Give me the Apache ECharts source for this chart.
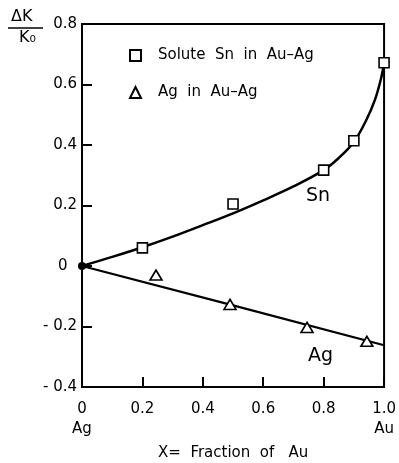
<!DOCTYPE html>
<html><head><meta charset="utf-8">
<script src="https://cdn.jsdelivr.net/npm/echarts@6/dist/echarts.min.js"></script>
<style>html,body{margin:0;padding:0;background:#fff}#c{width:399px;height:463px}</style>
</head><body><div id="c"></div>
<script>
// Measured points
const snX = [0.2, 0.5, 0.8, 0.9, 1.0];
const snY = [0.06, 0.205, 0.317, 0.414, 0.672];
const agX = [0.245, 0.49, 0.745, 0.943];
const agY = [-0.03, -0.127, -0.203, -0.249];
// Fitted curves as drawn
const snCurveX = [0, 0.1, 0.2, 0.3, 0.4, 0.5, 0.6, 0.7, 0.8, 0.85, 0.9, 0.94, 0.97, 0.99, 1.0];
const snCurveY = [0, 0.03, 0.062, 0.097, 0.135, 0.174, 0.217, 0.263, 0.317, 0.357, 0.41, 0.48, 0.55, 0.62, 0.67];
const agCurveX = [0, 0.5, 1.0];
const agCurveY = [0, -0.13, -0.262];
const xTickLabels = ['0\nAg', '0.2', '0.4', '0.6', '0.8', '1.0\nAu'];
const yTickLabels = ['- 0.4', '- 0.2', '0  ', '0.2', '0.4', '0.6', '0.8'];
const legendNames = ['Solute  Sn  in  Au–Ag', 'Ag  in  Au–Ag'];

const FONT = 'DejaVu Sans';
const pairs = (xs, ys) => xs.map((x, i) => [x, ys[i]]);
const chart = echarts.init(document.getElementById('c'), null, {renderer: 'canvas'});
chart.setOption({
  animation: false,
  backgroundColor: '#fff',
  textStyle: {fontFamily: FONT, color: '#000'},
  grid: {left: 82, right: 12, top: 24, bottom: 76, show: true, borderColor: '#000', borderWidth: 2},
  legend: {
    orient: 'vertical', left: 124, top: 43, itemGap: 22, itemWidth: 11, itemHeight: 11,
    data: legendNames, textStyle: {fontFamily: FONT, fontSize: 15, color: '#000', padding: [0, 0, 0, 12]}
  },
  xAxis: {
    type: 'value', min: 0, max: 1, interval: 0.2,
    axisLine: {show: true, onZero: false, lineStyle: {color: '#000', width: 2}},
    axisTick: {show: true, inside: true, length: 10, lineStyle: {color: '#000', width: 2}},
    splitLine: {show: false},
    axisLabel: {
      color: '#000', fontSize: 15, fontFamily: FONT, margin: 12, lineHeight: 20,
      formatter: (v) => xTickLabels[Math.round(v / 0.2)]
    }
  },
  yAxis: {
    type: 'value', min: -0.4, max: 0.8, interval: 0.2,
    axisLine: {show: true, onZero: false, lineStyle: {color: '#000', width: 2}},
    axisTick: {show: true, inside: true, length: 10, lineStyle: {color: '#000', width: 2}},
    splitLine: {show: false},
    axisLabel: {
      color: '#000', fontSize: 15, fontFamily: FONT, margin: 5,
      formatter: (v) => yTickLabels[Math.round((v + 0.4) / 0.2)]
    }
  },
  series: [
    {type: 'line', data: pairs(snCurveX, snCurveY), smooth: 0.35, showSymbol: false, silent: true,
     lineStyle: {color: '#000', width: 2.5}, z: 2},
    {type: 'line', data: pairs(agCurveX, agCurveY), smooth: true, showSymbol: false, silent: true,
     lineStyle: {color: '#000', width: 2.2}, z: 2},
    {name: legendNames[0], type: 'scatter', data: pairs(snX, snY), symbol: 'rect', symbolSize: 10,
     itemStyle: {color: '#fff', borderColor: '#000', borderWidth: 1.6, opacity: 1}, z: 5},
    {name: legendNames[1], type: 'scatter', data: pairs(agX, agY), symbol: 'triangle', symbolSize: [12, 10],
     itemStyle: {color: '#fff', borderColor: '#000', borderWidth: 1.6, opacity: 1}, z: 5},
    {type: 'scatter', data: [[0, 0]], symbol: 'circle', symbolSize: 8,
     itemStyle: {color: '#000', opacity: 1}, z: 6}
  ],
  graphic: [
    {type: 'text', left: 11, top: 9, style: {text: 'ΔK', font: '16px ' + FONT, fill: '#000'}},
    {type: 'line', shape: {x1: 8, y1: 28, x2: 43, y2: 28}, style: {stroke: '#000', lineWidth: 1.4}},
    {type: 'text', left: 19, top: 30, style: {text: 'K₀', font: '16px ' + FONT, fill: '#000'}},
    {type: 'text', left: 306, top: 187, style: {text: 'Sn', font: '19px ' + FONT, fill: '#000'}},
    {type: 'text', left: 308, top: 347, style: {text: 'Ag', font: '19px ' + FONT, fill: '#000'}},
    {type: 'text', left: 158, top: 446, style: {text: 'X=  Fraction  of   Au', font: '15px ' + FONT, fill: '#000'}}
  ]
});
</script></body></html>
